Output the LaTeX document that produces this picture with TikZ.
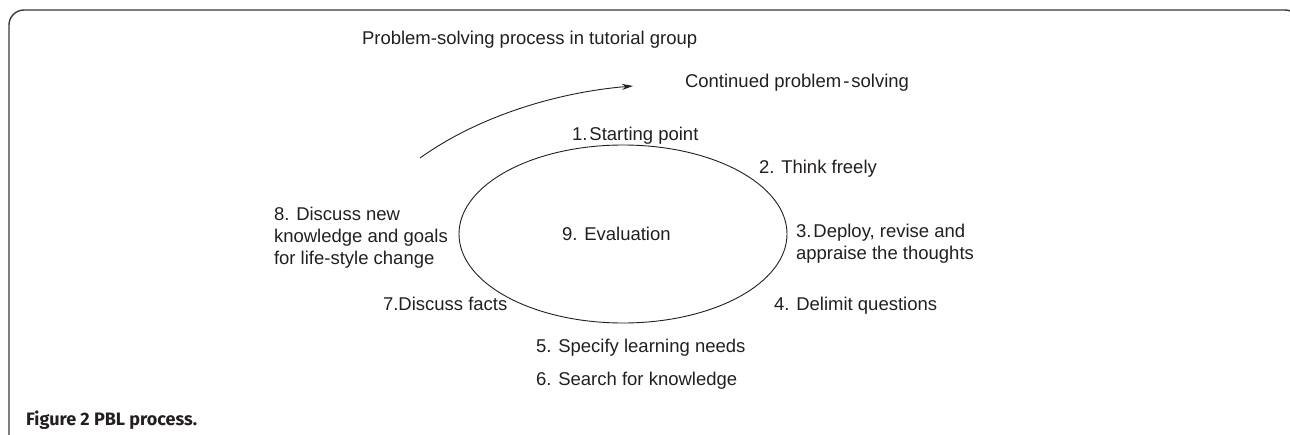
\documentclass[tikz,border=0pt]{standalone}
\usepackage{fontspec}
\setmainfont{Liberation Sans}
\newfontfamily\capfont{Fira Sans}
\usetikzlibrary{shapes.geometric,arrows.meta}
\definecolor{ink}{HTML}{231F20}
\definecolor{framec}{HTML}{3A3A3A}
\begin{document}
\begin{tikzpicture}[x=1pt,y=-1pt,
  lbl/.style={anchor=base west,inner sep=0pt,outer sep=0pt,text=ink,
    font=\fontsize{18.5}{22}\selectfont},
  thin line/.style={draw=ink,line width=0.9pt},
  framebox/.style={draw=framec,line width=1.4pt,rounded corners=15pt}]
\useasboundingbox (0,0) rectangle (1290,434);
% frame
\draw[framebox] (9,440) -- (9,10) -- (1300,10) -- (1300,440);
% title and labels
\node[lbl] (title) at (362,44) {Problem-solving process in tutorial group};
\node[lbl] (cont) at (685,87) {Continued problem\kern2pt-\kern2pt solving};
\node[lbl] (s1) at (572,140) {1.\kern2pt Starting point};
\node[lbl] (s2) at (759,173) {2. Think freely};
\node[lbl] (s3) at (796,237) {\begin{tabular}[t]{@{}l@{}}3.\kern2pt Deploy, revise and\\appraise the thoughts\end{tabular}};
\node[lbl] (s4) at (774,310) {4. Delimit questions};
\node[lbl] (s5) at (536,352) {5. Specify learning needs};
\node[lbl] (s6) at (536,385) {6. Search for knowledge};
\node[lbl] (s7) at (383,310) {7.Discuss facts};
\node[lbl] (s8) at (274,220) {\begin{tabular}[t]{@{}l@{}}8. Discuss new\\knowledge and goals\\for life-style change\end{tabular}};
% ellipse
\node[ellipse,thin line,minimum width=328pt,minimum height=178pt,inner sep=0pt] (ell) at (623,234) {};
\node[lbl] (s9) at (562,240) {9. Evaluation};
% arrow
\coordinate (astart) at (420,158);
\coordinate (aend) at (633,86);
\draw[thin line,-{Stealth[length=11pt,width=6pt]}] (astart) .. controls (480,115) and (560,92) .. (aend);
% caption
\node[anchor=base west,inner sep=0pt,text=ink,font=\capfont\bfseries\fontsize{18}{22}\selectfont] (cap) at (26,425) {Figure 2 PBL process.};
\end{tikzpicture}
\end{document}
